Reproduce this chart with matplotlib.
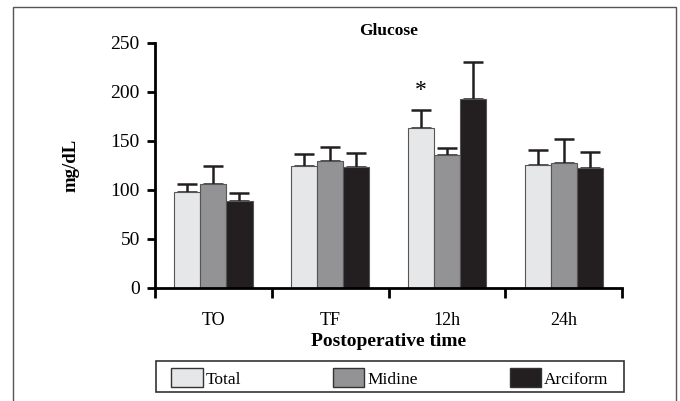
import matplotlib
matplotlib.use("Agg")
import matplotlib.pyplot as plt
import matplotlib.patches as mpatches
import numpy as np

plt.rcParams['font.family'] = ['Liberation Serif', 'DejaVu Serif']

times = ["TO", "TF", "12h", "24h"]
groups = ["Total", "Midine", "Arciform"]
total = [98, 124, 163, 125]
total_err = [8, 13, 19, 16]
midine = [106, 130, 136, 127]
midine_err = [18, 14, 7, 25]
arciform = [89, 123, 193, 122]
arciform_err = [8, 15, 38, 17]
colors = ["#e6e7e9", "#939396", "#231f20"]

fig = plt.figure(figsize=(6.8, 4.01), dpi=100)
ax = fig.add_axes([0.228, 0.282, 0.687, 0.611])

# outer frame and legend box
fig.patches.append(mpatches.Rectangle((13 / 680, -0.05), 663 / 680, 1.05 - 7 / 401,
                                      transform=fig.transFigure, fill=False,
                                      edgecolor="#555555", lw=1.0))
fig.patches.append(mpatches.Rectangle((156 / 680, 1 - 392 / 401), 468 / 680, 31 / 401,
                                      transform=fig.transFigure, fill=False,
                                      edgecolor="#333333", lw=1.2))

x = np.arange(len(times)) + 0.5
w = 0.223
series = [(total, total_err), (midine, midine_err), (arciform, arciform_err)]
for i, (vals, errs) in enumerate(series):
    pos = x + (i - 1) * w
    ax.bar(pos, vals, w, color=colors[i], edgecolor="#555555", lw=0.8, zorder=2)
    ax.errorbar(pos, vals, yerr=[np.zeros(len(vals)), errs], fmt="none",
                ecolor="#231f20", elinewidth=1.8, capsize=7, capthick=1.8, zorder=1)

ax.text(x[2] - w, 201, "*", ha="center", va="center", fontsize=17)

ax.set_xlim(0, 4)
ax.set_ylim(0, 250)
ax.set_yticks([0, 50, 100, 150, 200, 250])
ax.set_xticks([0, 1, 2, 3, 4])
ax.set_xticklabels([])
ax.set_xticks(x, minor=True)
ax.set_xticklabels(times, minor=True)
ax.tick_params(axis="x", which="minor", length=0, pad=17, labelsize=13)
ax.tick_params(axis="x", which="major", direction="out", length=7, width=2)
ax.tick_params(axis="y", length=6, width=2, labelsize=14, pad=5)
for s in ["top", "right"]:
    ax.spines[s].set_visible(False)
for s in ["left", "bottom"]:
    ax.spines[s].set_linewidth(2)

ax.set_title("Glucose", fontsize=12.5, fontweight="bold", pad=6)
ax.set_ylabel("mg/dL", fontsize=13.5, fontweight="bold", labelpad=22)
ax.set_xlabel("Postoperative time", fontsize=14, fontweight="bold", labelpad=3)

handles = [mpatches.Patch(facecolor=colors[i], edgecolor="#333333", label=groups[i])
           for i in range(3)]
leg = fig.legend(handles=handles, loc="lower left", ncol=3, mode="expand",
                 bbox_to_anchor=(167 / 680, 1 - 392 / 401, 446 / 680, 31 / 401),
                 fontsize=12.5, frameon=False,
                 handlelength=1.8, handleheight=1.3, handletextpad=0.2,
                 borderaxespad=0, borderpad=0.25)

fig.savefig("out.png", dpi=100)
